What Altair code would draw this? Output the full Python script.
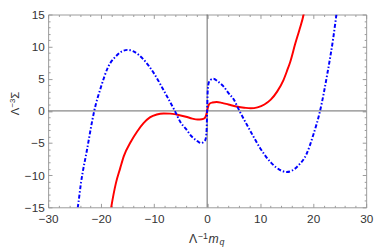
import altair as alt
import pandas as pd

# ---------------- data ----------------
red_x = [-18.4, -18.1, -17.2, -16.4, -15.7, -14.4, -13.2, -12.0, -10.8, -9.5, -8.2, -7.0,
         -5.8, -4.0, -2.8, -1.8, -1.0, -0.5, -0.2, 0.0, 0.2, 0.5, 1.0, 1.8, 2.8, 4.0, 5.8,
         7.0, 8.2, 9.5, 10.8, 12.0, 13.2, 14.4, 15.1, 15.7, 16.6, 17.4, 18.2, 18.5]
red_y = [-16.5, -15.0, -11.2, -8.9, -7.0, -4.8, -3.2, -1.9, -1.0, -0.55, -0.4, -0.42,
         -0.55, -0.9, -1.2, -1.35, -1.3, -1.15, -0.7, 0.0, 0.7, 1.15, 1.3, 1.38, 1.25, 1.0, 0.64,
         0.5, 0.4, 0.55, 1.0, 1.75, 3.0, 4.8, 6.3, 7.7, 10.4, 12.6, 15.0, 16.3]

blue_x = [-24.7, -24.4, -23.8, -22.7, -21.3, -20.0, -18.7, -17.2, -16.0, -15.0, -14.0, -12.0,
          -10.0, -8.0, -6.1, -5.0, -4.0, -3.0, -2.0, -1.2, -0.6, -0.3, -0.1, 0.0, 0.1, 0.3,
          0.6, 1.2, 2.0, 3.0, 4.0, 5.0, 6.1, 8.0, 10.0, 12.0, 14.0, 15.0, 16.0, 17.2, 18.7,
          20.0, 21.3, 22.7, 23.8, 24.4, 24.7]
blue_y = [-16.5, -15.0, -11.2, -6.2, 0.0, 3.8, 6.8, 8.5, 9.3, 9.5, 9.3, 8.0,
          5.8, 2.9, 0.0, -1.8, -2.8, -3.9, -4.6, -5.0, -4.8, -4.4, -3.0, 0.0, 3.0, 4.4,
          4.8, 5.0, 4.6, 3.9, 2.8, 1.8, 0.0, -2.9, -5.8, -8.0, -9.3, -9.5, -9.3, -8.5, -6.8,
          -3.8, 0.0, 5.9, 11.4, 15.0, 16.5]

x_major = [-30, -20, -10, 0, 10, 20, 30]
y_major = [-15, -10, -5, 0, 5, 10, 15]
x_ticks = list(range(-30, 31, 2))
y_ticks = list(range(-15, 16, 1))

x_title_parts = ["Λ", "−1", "m", "q"]
y_title_parts = ["Λ", "−3", "Σ"]

# ---------------- layout ----------------
W, H = 325, 197
FONT = "Liberation Sans"
FRAME = "#9a9a9a"
LABEL = "#333333"

xs = alt.Scale(domain=[-30, 30], nice=False, zero=False)
ys = alt.Scale(domain=[-15, 15], nice=False, zero=False)


def tick_axis(orient, offset, values, test):
    return alt.Axis(orient=orient, offset=offset, values=values, labels=False,
                    domain=False, grid=False, title=None, tickColor=FRAME, tickWidth=1,
                    tickSize={"condition": {"test": test, "value": 4}, "value": 2})


xmaj = "datum.value % 10 === 0"
ymaj = "datum.value % 5 === 0"

red_df = pd.DataFrame({"x": red_x, "y": red_y})
blue_df = pd.DataFrame({"x": blue_x, "y": blue_y})
zero_df = pd.DataFrame({"zero": [0]})

vrule = alt.Chart(zero_df).mark_rule(color="#666666", strokeWidth=1).encode(
    x=alt.X("zero:Q", scale=xs, axis=tick_axis("bottom", -H, x_ticks, xmaj))
)
hrule = alt.Chart(zero_df).mark_rule(color="#666666", strokeWidth=1).encode(
    y=alt.Y("zero:Q", scale=ys, axis=tick_axis("left", -W, y_ticks, ymaj))
)

red = alt.Chart(red_df).mark_line(color="#ff0000", strokeWidth=2, clip=True,
                                  interpolate="monotone").encode(
    x=alt.X("x:Q", scale=xs,
            axis=alt.Axis(orient="bottom", values=x_major, ticks=False, tickSize=0,
                          domain=False, grid=False, title=None, labelFont=FONT,
                          labelFontSize=12, labelColor=LABEL, labelPadding=7,
                          labelFlush=False)),
    y=alt.Y("y:Q", scale=ys,
            axis=alt.Axis(orient="left", values=y_major, ticks=False, tickSize=0,
                          domain=False, grid=False, title=None, labelFont=FONT,
                          labelFontSize=12, labelColor=LABEL, labelPadding=4,
                          labelFlush=False)),
)

blue = alt.Chart(blue_df).mark_line(color="#0000ff", strokeWidth=2, clip=True,
                                    strokeDash=[4, 2, 1.5, 2],
                                    interpolate="monotone").encode(
    x=alt.X("x:Q", scale=xs, axis=tick_axis("top", -H, x_ticks, xmaj)),
    y=alt.Y("y:Q", scale=ys, axis=tick_axis("right", -W, y_ticks, ymaj)),
)


def txt(s, x, y, size, italic=False, angle=0):
    return alt.Chart(pd.DataFrame({"t": [s]})).mark_text(
        font=FONT, fontSize=size, fontStyle="italic" if italic else "normal",
        color=LABEL, align="left", baseline="alphabetic", angle=angle
    ).encode(text="t:N", x=alt.value(x), y=alt.value(y))


titles = [
    txt(x_title_parts[0], 144, 233, 12.5),
    txt(x_title_parts[1], 153, 229.5, 9),
    txt(x_title_parts[2], 164, 233, 12.5, italic=True),
    txt(x_title_parts[3], 175, 236, 9, italic=True),
    txt(y_title_parts[0], -30, 103, 11.5, angle=270),
    txt(y_title_parts[1], -33.5, 95, 8, angle=270),
    txt(y_title_parts[2], -30, 86, 11.5, angle=270),
]

chart = alt.layer(vrule, hrule, red, blue, *titles).resolve_axis(
    x="independent", y="independent"
).properties(
    width=W, height=H,
    autosize=alt.AutoSizeParams(type="none"),
    padding={"left": 41, "top": 4, "right": 8, "bottom": 42},
).configure_view(stroke=FRAME, strokeWidth=1)

chart.save("out.html", embed_options={"renderer": "svg", "actions": False})
